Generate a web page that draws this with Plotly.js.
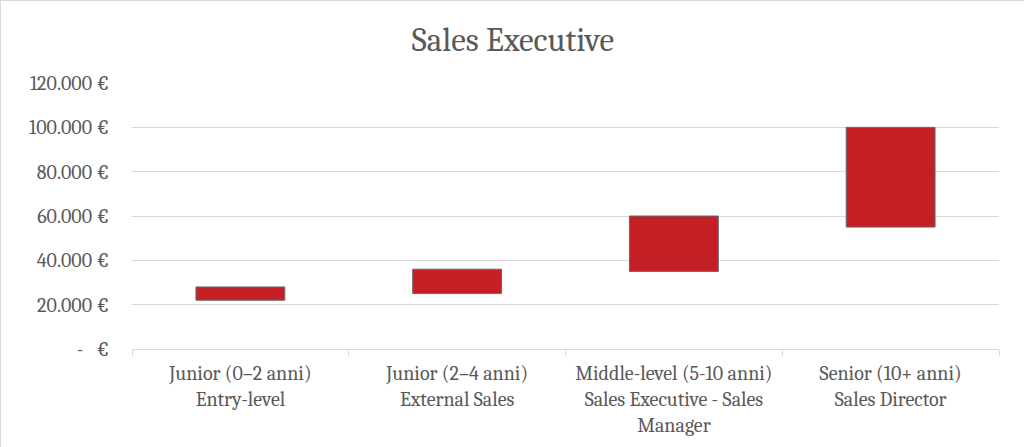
<!DOCTYPE html>
<html>
<head>
<meta charset="utf-8">
<script src="https://cdn.plot.ly/plotly-3.0.1.min.js"></script>
<style>
  html, body { margin: 0; padding: 0; background: #fff; }
  #grafico { width: 1024px; height: 447px; box-sizing: border-box; border: 1px solid #d9d9d9; }
</style>
</head>
<body>
<div id="grafico"></div>
<script>
const livelli = [
	'Junior (0–2 anni)<br>Entry-level',
	'Junior (2–4 anni)<br>External Sales',
	'Middle-level (5-10 anni)<br>Sales Executive - Sales<br>Manager',
	'Senior (10+ anni)<br>Sales Director'
];
const minimo = [22000, 25000, 35000, 55000];
const massimo = [28000, 36000, 60000, 100000];
const tickValori = [0, 20000, 40000, 60000, 80000, 100000, 120000];
const tickTesti = ['-   €', '20.000 €', '40.000 €', '60.000 €', '80.000 €', '100.000 €', '120.000 €'];

plot();
function plot() {
	const font = 'Cambria, "DejaVu Serif", serif';
	const trace = {
		type: 'bar',
		x: livelli,
		base: minimo,
		y: massimo.map((v, i) => v - minimo[i]),
		marker: {
			color: '#C51F26',
			line: { color: '#6b6b6b', width: 1 }
		},
		hoverinfo: 'skip'
	};

	const layout = {
		width: 1024,
		height: 447,
		margin: { l: 131, r: 26, t: 82, b: 99 },
		paper_bgcolor: '#ffffff',
		plot_bgcolor: '#ffffff',
		showlegend: false,
		bargap: 0.59,
		font: { family: font, color: '#595959', size: 20 },
		title: {
			text: 'Sales Executive',
			font: { family: font, size: 33, color: '#595959' },
			x: 0.5,
			xanchor: 'center',
			y: 0.915,
			yanchor: 'middle'
		},
		xaxis: {
			type: 'category',
			showgrid: false,
			showline: true,
			linecolor: '#d9d9d9',
			linewidth: 1,
			ticks: 'outside',
			tickson: 'boundaries',
			ticklen: 6,
			tickcolor: '#d9d9d9',
			tickfont: { family: font, size: 20, color: '#595959' },
			ticklabelstandoff: 6,
			zeroline: false
		},
		yaxis: {
			range: [0, 120000],
			tickvals: tickValori,
			ticktext: tickTesti,
			showgrid: true,
			gridcolor: '#d9d9d9',
			gridwidth: 1,
			zeroline: false,
			showline: false,
			ticks: '',
			tickfont: { family: font, size: 20, color: '#595959' },
			ticklabelstandoff: 22
		}
	};

	Plotly.newPlot('grafico', [trace], layout, { displayModeBar: false, staticPlot: true });
}
</script>
</body>
</html>
